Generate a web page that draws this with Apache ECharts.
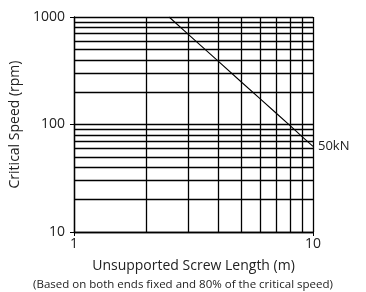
<!DOCTYPE html>
<html>
<head>
<meta charset="utf-8">
<script src="https://cdn.jsdelivr.net/npm/echarts@6/dist/echarts.min.js"></script>
<style>html,body{margin:0;padding:0;background:#fff}#c{width:366px;height:292px}</style>
</head>
<body>
<div id="c"></div>
<script>
// Data
var lengths = [2.5, 3, 4, 5, 6, 7, 8, 9, 10];
var speeds50kN = [1000, 694, 390, 250, 174, 128, 98, 77, 62.5];
var seriesName = '50kN';
var xGridValues = [2, 3, 4, 5, 6, 7, 8, 9];
var yGridValues = [20, 30, 40, 50, 60, 70, 80, 90, 200, 300, 400, 500, 600, 700, 800, 900];
var xTitle = 'Unsupported Screw Length (m)';
var yTitle = 'Critical Speed (rpm)';
var note = '(Based on both ends fixed and 80% of the critical speed)';

var FONT = 'Open Sans';
var INK = '#222';
var LINE = '#000';
var chart = echarts.init(document.getElementById('c'), null, {renderer: 'canvas'});
var gridData = [];
xGridValues.forEach(function (v) { gridData.push({xAxis: v}); });
yGridValues.forEach(function (v) { gridData.push({yAxis: v}); });
function plain(v) { return String(v); }

chart.setOption({
  animation: false,
  grid: {left: 74, right: 53, top: 17, bottom: 60},
  xAxis: {
    type: 'log', logBase: 10, min: 1, max: 10,
    name: xTitle, nameLocation: 'middle', nameGap: 27,
    nameTextStyle: {fontFamily: FONT, fontSize: 14, color: INK},
    axisLine: {show: true, lineStyle: {color: LINE, width: 1.3}},
    axisTick: {show: true, length: 4, lineStyle: {color: LINE}},
    axisLabel: {fontFamily: FONT, fontSize: 14, color: INK, margin: 5, formatter: plain},
    splitLine: {show: true, lineStyle: {color: LINE, width: 1.3}}
  },
  yAxis: {
    type: 'log', logBase: 10, min: 10, max: 1000,
    name: yTitle, nameLocation: 'middle', nameGap: 48,
    nameTextStyle: {fontFamily: FONT, fontSize: 14, color: INK},
    axisLine: {show: true, lineStyle: {color: LINE, width: 1.3}},
    axisTick: {show: true, length: 4, lineStyle: {color: LINE}},
    axisLabel: {fontFamily: FONT, fontSize: 14, color: INK, margin: 9, formatter: plain},
    splitLine: {show: true, lineStyle: {color: LINE, width: 1.3}}
  },
  graphic: [{
    type: 'text', left: 'center', top: 279,
    style: {text: note, fontFamily: FONT, fontSize: 11.5, fill: INK}
  }],
  series: [{
    name: 'grid', type: 'line', data: [], silent: true,
    markLine: {
      silent: true, symbol: 'none', animation: false,
      label: {show: false},
      lineStyle: {color: LINE, width: 1.3, type: 'solid'},
      emphasis: {disabled: true},
      data: gridData
    }
  }, {
    name: seriesName, type: 'line',
    data: lengths.map(function (x, i) { return [x, speeds50kN[i]]; }),
    showSymbol: false, symbol: 'none',
    lineStyle: {color: '#000', width: 1.1},
    endLabel: {show: true, formatter: seriesName, fontFamily: FONT, fontSize: 13, color: INK, distance: 5}
  }]
});
</script>
</body>
</html>
